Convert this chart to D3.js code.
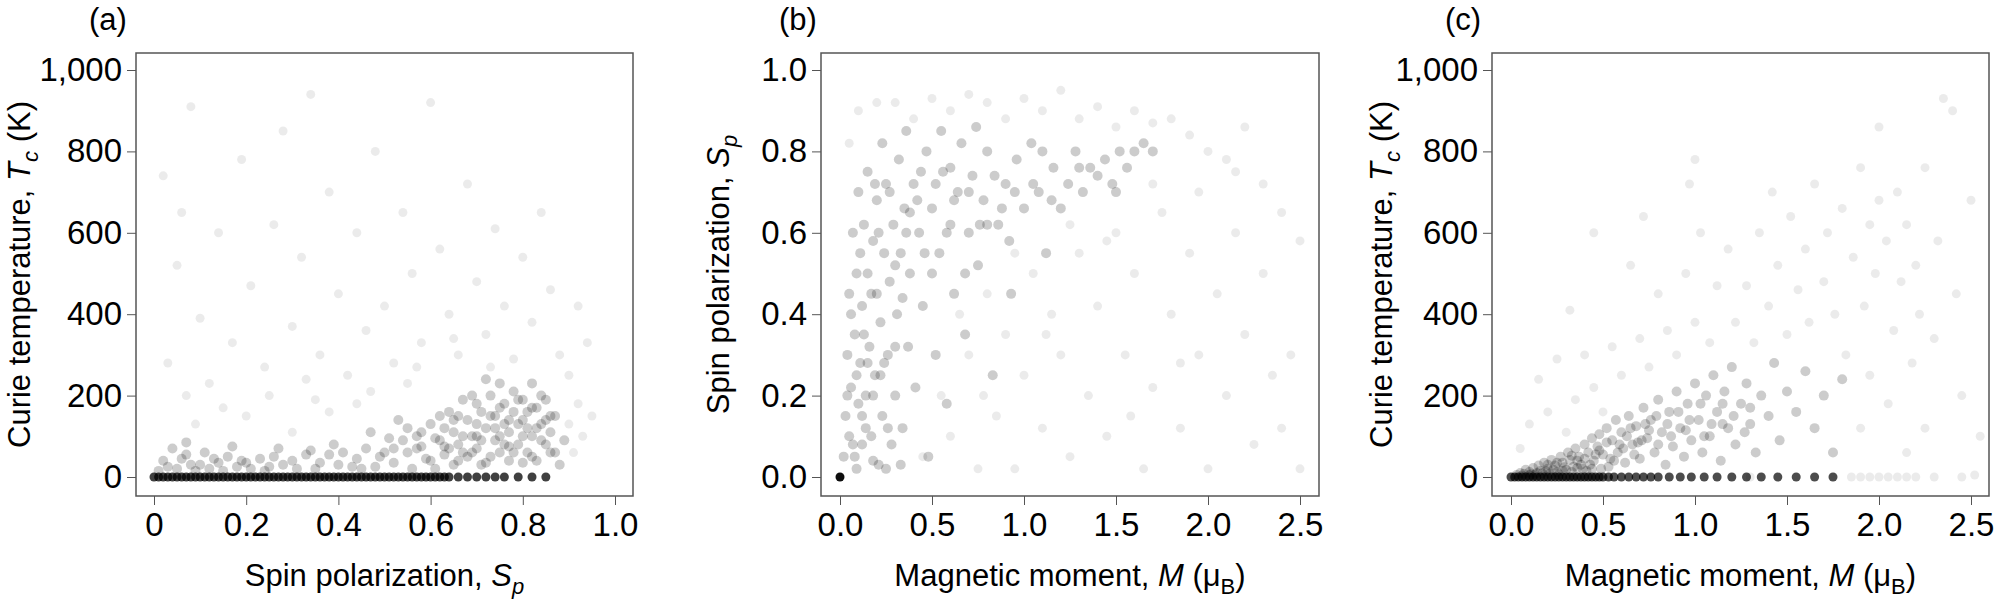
<!DOCTYPE html>
<html lang="en">
<head>
<meta charset="UTF-8">
<title>Tc, Sp and M scatter</title>
<style>
body { margin: 0; background: #fff; }
svg { font-family: "Liberation Sans", Arial, sans-serif; }
.tick text { font-size: 33px; fill: #000; }
.tick line, .domain { stroke: #555; }
.ttl { font-size: 31px; fill: #000; }
</style>
</head>
<body>
<svg id="chart" width="2000" height="600"></svg>
<script src="https://d3js.org/d3.v7.min.js"></script>
<script>
// panel (a): spin polarization vs Curie temperature
const aZero = [0,0.01,0.02,0.03,0.04,0.05,0.06,0.07,0.08,0.09,0.1,0.11,0.12,0.13,0.14,0.15,0.16,0.17,0.18,0.19,0.2,0.21,0.22,0.23,0.24,0.25,0.26,0.27,0.28,0.29,0.3,0.31,0.32,0.33,0.34,0.35,0.36,0.37,0.38,0.39,0.4,0.41,0.42,0.43,0.44,0.45,0.46,0.47,0.48,0.49,0.5,0.51,0.52,0.53,0.54,0.55,0.56,0.57,0.58,0.59,0.6,0.61,0.62,0.63,0.64,0.66,0.68,0.7,0.72,0.74,0.76,0.79,0.82,0.85];
const aDense = [[0.01,15],[0.02,40],[0.03,25],[0.04,70],[0.05,20],[0.06,45],[0.07,55],[0.08,30],[0.09,15],[0.1,30],[0.11,60],[0.12,20],[0.13,45],[0.14,35],[0.15,15],[0.16,50],[0.18,25],[0.19,40],[0.2,35],[0.21,20],[0.23,45],[0.24,15],[0.25,25],[0.26,50],[0.28,30],[0.3,40],[0.31,20],[0.33,55],[0.35,20],[0.36,35],[0.38,55],[0.4,30],[0.41,60],[0.43,25],[0.44,45],[0.46,70],[0.48,25],[0.49,50],
  [0.5,60],[0.51,95],[0.52,35],[0.54,90],[0.55,120],[0.56,20],[0.57,70],[0.58,75],[0.59,45],[0.6,130],[0.61,95],[0.62,150],[0.63,55],[0.64,160],[0.65,30],[0.65,110],[0.66,80],[0.67,190],[0.68,140],[0.68,50],[0.69,100],[0.7,180],[0.7,70],[0.71,160],[0.72,120],[0.72,35],[0.73,200],[0.74,90],[0.74,150],[0.75,60],[0.75,230],[0.76,130],[0.76,180],[0.77,40],[0.77,110],[0.78,210],[0.78,160],[0.79,80],[0.8,140],[0.8,190],[0.81,60],[0.81,120],[0.82,230],[0.82,100],[0.83,170],[0.83,40],[0.84,130],[0.85,80],[0.85,190],[0.86,110],[0.87,60],[0.87,150],[0.88,30],[0.89,90],
  [0.6,40],[0.62,90],[0.63,120],[0.64,70],[0.66,150],[0.67,100],[0.69,60],[0.7,130],[0.71,90],[0.73,50],[0.74,120],[0.75,170],[0.76,80],[0.77,140],[0.78,60],[0.79,190],[0.8,100],[0.81,160],[0.82,50],[0.83,120],[0.84,200],[0.85,140],[0.86,60],[0.69,200],[0.72,240],[0.66,40],[0.58,110],[0.55,60],[0.53,140],[0.47,110],
  [0.61,20],[0.63,75],[0.65,140],[0.67,60],[0.7,100],[0.71,30],[0.73,150],[0.75,100],[0.77,75],[0.79,130],[0.8,35],[0.82,170],[0.84,90],[0.86,150],[0.57,100],[0.52,70],[0.45,20],[0.39,80],[0.34,65],[0.27,70],[0.17,75],[0.07,85]];
const aSparse = [[0.03,280],[0.05,520],[0.02,740],[0.06,650],[0.08,910],[0.1,390],[0.12,230],[0.14,600],[0.17,330],[0.19,780],[0.21,470],[0.24,270],[0.26,620],[0.28,850],[0.3,370],[0.32,540],[0.34,940],[0.36,300],[0.38,700],[0.4,450],[0.42,250],[0.44,600],[0.46,360],[0.48,800],[0.5,420],[0.52,280],[0.54,650],[0.56,500],[0.58,330],[0.6,920],[0.62,560],[0.64,400],[0.66,300],[0.68,720],[0.7,480],[0.72,350],[0.74,610],[0.76,420],[0.78,290],[0.8,540],[0.82,380],[0.84,650],[0.86,460],[0.88,300],[0.9,250],[0.92,420],[0.94,330],[0.47,210],[0.55,230],[0.35,190],[0.15,170],[0.25,200],[0.09,130],[0.2,150],[0.3,110],[0.38,160],[0.44,180],[0.9,130],[0.91,60],[0.92,180],[0.93,100],[0.95,150],[0.07,200],[0.33,240],[0.57,270],[0.65,340],[0.73,270]];

// panel (b): magnetic moment vs spin polarization
const bZero = [0];
const bDense = [[0.02,0.05],[0.03,0.15],[0.04,0.3],[0.05,0.1],[0.05,0.45],[0.06,0.22],[0.07,0.6],[0.08,0.35],[0.08,0.05],[0.09,0.5],[0.1,0.18],[0.1,0.7],[0.11,0.28],[0.12,0.42],[0.12,0.08],[0.13,0.62],[0.14,0.2],[0.15,0.5],[0.15,0.75],[0.16,0.32],[0.17,0.1],[0.18,0.58],[0.19,0.25],[0.2,0.45],[0.2,0.68],[0.21,0.03],[0.22,0.38],[0.23,0.15],[0.24,0.55],[0.25,0.72],[0.26,0.3],[0.27,0.48],[0.28,0.08],[0.29,0.62],[0.3,0.2],[0.31,0.4],[0.32,0.78],[0.33,0.55],[0.34,0.12],[0.35,0.66],[0.37,0.32],[0.38,0.5],[0.4,0.72],[0.41,0.22],[0.43,0.6],[0.45,0.42],[0.47,0.8],[0.48,0.05],[0.5,0.66],[0.52,0.3],[0.54,0.55],[0.56,0.75],[0.58,0.18],[0.6,0.62],[0.62,0.45],[0.64,0.7],[0.66,0.82],[0.68,0.35],[0.7,0.6],[0.72,0.74],[0.75,0.52],[0.78,0.68],[0.8,0.8],[0.83,0.25],[0.86,0.62],[0.9,0.72],[0.93,0.45],[0.96,0.78],[1.0,0.66],[1.04,0.82],[1.08,0.7],[1.12,0.55],[1.16,0.76],[1.2,0.66],[1.24,0.72],[1.28,0.8],[1.32,0.7],[1.36,0.76],[1.4,0.74],[1.44,0.78],[1.48,0.72],[1.52,0.8],[1.56,0.76],[1.6,0.8],[1.65,0.82],[1.7,0.8],
  [0.06,0.4],[0.11,0.55],[0.14,0.12],[0.17,0.45],[0.21,0.6],[0.24,0.28],[0.27,0.7],[0.3,0.52],[0.36,0.6],[0.42,0.68],[0.46,0.55],[0.52,0.72],[0.58,0.6],[0.62,0.68],[0.7,0.7],[0.76,0.62],[0.84,0.74],[0.88,0.66],[0.95,0.7],[1.05,0.72],[1.15,0.68],[0.18,0.04],[0.25,0.02],[0.33,0.03],[0.09,0.02],[0.13,0.35],[0.19,0.72],[0.23,0.82],[0.36,0.85],[0.55,0.85],[0.74,0.86],
  [0.04,0.2],[0.07,0.08],[0.09,0.25],[0.12,0.15],[0.15,0.28],[0.18,0.2],[0.22,0.25],[0.26,0.12],[0.3,0.32],[0.34,0.44],[0.38,0.65],[0.44,0.75],[0.5,0.5],[0.6,0.76],[0.68,0.5],[0.8,0.62],[0.92,0.58],[1.1,0.8],[1.3,0.76],[1.5,0.7]];
const bSparse = [[0.05,0.82],[0.1,0.9],[0.2,0.92],[0.3,0.92],[0.4,0.88],[0.5,0.93],[0.6,0.9],[0.7,0.94],[0.8,0.92],[0.9,0.88],[1.0,0.93],[1.1,0.9],[1.2,0.95],[1.3,0.88],[1.4,0.91],[1.5,0.86],[1.6,0.9],[1.7,0.87],[1.8,0.88],[1.9,0.84],[2.0,0.8],[2.1,0.78],[2.2,0.86],[2.3,0.72],[2.4,0.65],[2.5,0.58],
  [0.45,0.05],[0.55,0.2],[0.6,0.1],[0.7,0.3],[0.75,0.02],[0.8,0.45],[0.85,0.15],[0.9,0.35],[0.95,0.02],[1.0,0.25],[1.05,0.5],[1.1,0.12],[1.15,0.4],[1.2,0.3],[1.25,0.05],[1.3,0.55],[1.35,0.2],[1.4,0.42],[1.45,0.1],[1.5,0.6],[1.55,0.3],[1.6,0.5],[1.65,0.02],[1.7,0.22],[1.75,0.65],[1.8,0.4],[1.85,0.12],[1.9,0.55],[1.95,0.3],[2.0,0.02],[2.05,0.45],[2.1,0.2],[2.15,0.6],[2.2,0.35],[2.25,0.08],[2.3,0.5],[2.35,0.25],[2.45,0.3],[2.5,0.02],[0.65,0.4],[0.95,0.55],[1.25,0.62],[1.45,0.58],[1.7,0.72],[1.95,0.7],[2.15,0.75],[1.12,0.35],[0.78,0.2],[1.58,0.15],[1.85,0.28],[2.4,0.12]];

// panel (c): magnetic moment vs Curie temperature
const cZero = [0,0.02,0.04,0.06,0.08,0.1,0.12,0.14,0.16,0.18,0.2,0.22,0.24,0.26,0.28,0.3,0.32,0.34,0.36,0.38,0.4,0.42,0.44,0.46,0.48,0.5,0.53,0.56,0.6,0.64,0.68,0.72,0.76,0.8,0.86,0.92,0.98,1.05,1.12,1.2,1.28,1.36,1.45,1.55,1.65,1.75];
const cDense = [[0.03,5],[0.05,10],[0.07,8],[0.08,18],[0.1,12],[0.12,22],[0.13,6],[0.15,28],[0.16,15],[0.18,35],[0.2,20],[0.21,8],[0.22,42],[0.24,28],[0.25,12],[0.27,50],[0.28,35],[0.3,18],[0.31,60],[0.32,42],[0.34,25],[0.35,70],[0.37,50],[0.38,30],[0.4,80],[0.41,15],[0.42,60],[0.44,95],[0.45,40],[0.47,75],[0.48,105],[0.5,55],[0.52,120],[0.53,25],[0.55,90],[0.57,140],[0.58,60],[0.6,110],[0.62,35],[0.64,150],[0.66,80],[0.68,125],[0.7,45],[0.72,170],[0.74,95],[0.76,140],[0.78,60],[0.8,190],[0.82,110],[0.84,30],[0.86,160],[0.88,75],[0.9,210],[0.92,120],[0.94,50],[0.96,180],[0.98,90],[1.0,230],[1.02,140],[1.04,60],[1.06,200],[1.08,100],[1.1,250],[1.12,160],[1.14,40],[1.16,210],[1.18,120],[1.2,270],[1.22,80],[1.25,180],[1.28,230],[1.3,130],[1.33,60],[1.36,200],[1.4,150],[1.43,280],[1.46,90],[1.5,210],[1.55,160],[1.6,260],[1.65,120],[1.7,200],[1.75,60],[1.8,240],
  [0.1,4],[0.14,10],[0.19,14],[0.23,18],[0.26,6],[0.29,24],[0.33,12],[0.36,40],[0.39,20],[0.43,30],[0.46,55],[0.49,20],[0.54,45],[0.59,80],[0.63,100],[0.67,55],[0.71,90],[0.75,115],[0.79,150],[0.85,130],[0.91,160],[0.97,140],[1.03,180],[1.09,130],[1.15,180],[1.21,150],[1.27,110],
  [0.06,3],[0.11,7],[0.17,9],[0.2,30],[0.25,35],[0.28,15],[0.33,52],[0.36,22],[0.4,45],[0.44,20],[0.48,65],[0.52,85],[0.56,40],[0.61,70],[0.65,120],[0.69,85],[0.73,130],[0.8,80],[0.87,100],[0.95,115],[1.05,100],[1.15,130],[1.3,170]];
const cSparse = [[0.05,70],[0.1,130],[0.15,240],[0.2,160],[0.25,290],[0.3,110],[0.32,410],[0.35,190],[0.4,300],[0.45,220],[0.45,600],[0.5,160],[0.55,320],[0.6,250],[0.65,520],[0.7,340],[0.72,640],[0.75,270],[0.8,450],[0.85,360],[0.9,300],[0.95,500],[0.97,720],[1.0,380],[1.0,780],[1.03,600],[1.08,330],[1.12,470],[1.18,560],[1.22,380],[1.28,470],[1.32,330],[1.35,600],[1.4,420],[1.42,700],[1.45,520],[1.5,350],[1.52,640],[1.56,460],[1.6,560],[1.62,380],[1.65,720],[1.7,480],[1.72,600],[1.76,400],[1.8,660],[1.82,300],[1.86,540],[1.9,760],[1.92,420],[1.95,620],[1.98,500],[2.0,680],[2.0,860],[2.04,580],[2.08,360],[2.1,700],[2.12,480],[2.15,620],[2.18,280],[2.2,520],[2.22,400],[2.25,760],[2.3,340],[2.32,580],[2.35,930],[2.4,900],[2.42,450],[2.45,200],[2.5,680],[2.55,100],[1.3,0],[1.85,0],[1.9,0],[1.95,0],[2.0,0],[2.05,0],[2.1,0],[2.15,0],[2.2,0],[2.3,0],[2.45,0],[2.52,5],[1.9,120],[2.05,180],[2.15,60],[1.95,250],[2.25,120]];

const xTicksA = [0, 0.2, 0.4, 0.6, 0.8, 1.0];
const xTicksM = [0, 0.5, 1.0, 1.5, 2.0, 2.5];
const yTicksT = [0, 200, 400, 600, 800, 1000];
const yTicksS = [0, 0.2, 0.4, 0.6, 0.8, 1.0];

const svg = d3.select("#chart");
const boxTop = 53, boxBottom = 496;

const panels = [
  { tag: "(a)", tagX: 108, left: 136, right: 633, x0: 154, x1: 615, xd: [0, 1], yd: [0, 1000],
    xt: xTicksA, xf: d => d === 0 ? "0" : d3.format(".1f")(d), yt: yTicksT, yf: d3.format(","),
    zero: aZero, dense: aDense, sparse: aSparse, zeroOp: 0.75,
    xlab: ["Spin polarization, ", "S", "p"], ylab: ["Curie temperature, ", "T", "c", " (K)"], yOff: 106 },
  { tag: "(b)", tagX: 798, left: 821, right: 1319, x0: 840, x1: 1300, xd: [0, 2.5], yd: [0, 1],
    xt: xTicksM, xf: d3.format(".1f"), yt: yTicksS, yf: d3.format(".1f"),
    zero: bZero, dense: bDense, sparse: bSparse, zeroOp: 0.95,
    xlab: ["Magnetic moment, ", "M", "", " (μ", "B", ")"], ylab: ["Spin polarization, ", "S", "p", ""], yOff: 92 },
  { tag: "(c)", tagX: 1463, left: 1492, right: 1989, x0: 1511, x1: 1971, xd: [0, 2.5], yd: [0, 1000],
    xt: xTicksM, xf: d3.format(".1f"), yt: yTicksT, yf: d3.format(","),
    zero: cZero, dense: cDense, sparse: cSparse, zeroOp: 0.7,
    xlab: ["Magnetic moment, ", "M", "", " (μ", "B", ")"], ylab: ["Curie temperature, ", "T", "c", " (K)"], yOff: 100 }
];

panels.forEach(p => {
  const x = d3.scaleLinear().domain(p.xd).range([p.x0, p.x1]);
  const y = d3.scaleLinear().domain(p.yd).range([477, 70]);
  const g = svg.append("g");

  const dots = (data, op, r) => g.append("g").selectAll("circle").data(data).enter()
    .append("circle").attr("cx", d => x(d[0])).attr("cy", d => y(d[1]))
    .attr("r", r).attr("fill", "#000").attr("fill-opacity", op);
  dots(p.sparse, 0.08, 4.5);
  dots(p.dense, 0.2, 5);
  dots(p.zero.map(v => [v, 0]), p.zeroOp, 4.5);

  g.append("rect").attr("x", p.left).attr("y", boxTop).attr("width", p.right - p.left)
    .attr("height", boxBottom - boxTop).attr("fill", "none").attr("stroke", "#555").attr("stroke-width", 1.5);

  g.append("g").attr("transform", `translate(0,${boxBottom})`)
    .call(d3.axisBottom(x).tickValues(p.xt).tickFormat(p.xf).tickSize(9).tickPadding(8))
    .call(a => a.select(".domain").remove());
  g.append("g").attr("transform", `translate(${p.left},0)`)
    .call(d3.axisLeft(y).tickValues(p.yt).tickFormat(p.yf).tickSize(9).tickPadding(5))
    .call(a => a.select(".domain").remove());

  g.append("text").attr("class", "ttl").attr("x", p.tagX).attr("y", 30).attr("text-anchor", "middle").text(p.tag);

  const xl = g.append("text").attr("class", "ttl").attr("x", (p.left + p.right) / 2).attr("y", 586).attr("text-anchor", "middle");
  const parts = p.xlab;
  xl.append("tspan").text(parts[0]);
  xl.append("tspan").attr("font-style", "italic").text(parts[1]);
  if (parts[2]) xl.append("tspan").attr("font-style", "italic").attr("font-size", 22).attr("dy", 8).text(parts[2]);
  if (parts[3]) {
    xl.append("tspan").text(parts[3]);
    xl.append("tspan").attr("font-size", 22).attr("dy", 8).text(parts[4]);
    xl.append("tspan").attr("dy", -8).text(parts[5]);
  }

  const yl = g.append("text").attr("class", "ttl")
    .attr("transform", `translate(${p.left - p.yOff},${(boxTop + boxBottom) / 2}) rotate(-90)`).attr("text-anchor", "middle");
  yl.append("tspan").text(p.ylab[0]);
  yl.append("tspan").attr("font-style", "italic").text(p.ylab[1]);
  yl.append("tspan").attr("font-style", "italic").attr("font-size", 22).attr("dy", 8).text(p.ylab[2]);
  if (p.ylab[3]) yl.append("tspan").attr("dy", -8).text(p.ylab[3]);
});
</script>
</body>
</html>
